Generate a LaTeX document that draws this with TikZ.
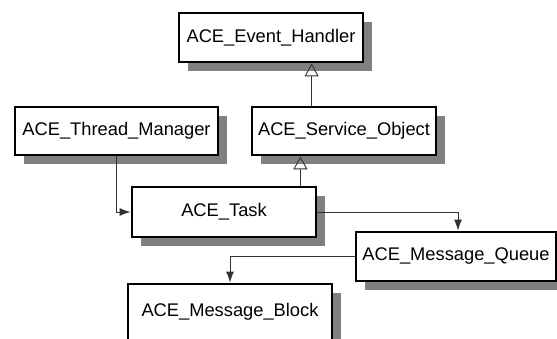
\documentclass[tikz,border=0pt]{standalone}
\usepackage{fontspec}
\setmainfont{Liberation Sans}
\usetikzlibrary{arrows.meta,shadows}
\definecolor{shadowgray}{RGB}{128,128,128}
\definecolor{linegray}{RGB}{50,50,50}
\tikzset{
  classbox/.style={draw=black, line width=2.8pt, fill=white, inner sep=0pt,
    font=\fontsize{18.3}{21}\selectfont,
    general shadow={fill=shadowgray, shadow xshift=9pt, shadow yshift=-9pt}},
  gen/.style={draw=linegray, line width=0.9pt, -{Triangle[open, length=13pt, width=14pt, line width=0.9pt]}},
  assoc/.style={draw=linegray, line width=0.9pt, -{Latex[length=11pt, width=8pt]}}
}
\begin{document}
\begin{tikzpicture}[x=1pt, y=-1pt]
\useasboundingbox (0,0) rectangle (557,339);
\node[classbox, minimum width=184pt, minimum height=49pt] (EH) at (271,37.5) {ACE\_Event\_Handler};
\node[classbox, minimum width=203pt, minimum height=48pt] (TM) at (116.5,131) {ACE\_Thread\_Manager};
\node[classbox, minimum width=184pt, minimum height=48pt] (SO) at (344,131) {ACE\_Service\_Object};
\node[classbox, minimum width=184pt, minimum height=50pt] (Task) at (224,212) {ACE\_Task};
\node[classbox, minimum width=200pt, minimum height=49pt] (MQ) at (456,256.5) {ACE\_Message\_Queue};
\node[classbox, minimum width=204pt, minimum height=56pt] (MB) at (230,312) {ACE\_Message\_Block};
\draw[gen] ([xshift=61pt]SO.north west) -- ([xshift=61pt]SO.north west |- EH.south);
\draw[gen] ([xshift=-17pt]Task.north east) -- ([xshift=-17pt]Task.north east |- SO.south);
\draw[assoc] (TM.south) |- (Task.west);
\draw[assoc] (Task.east) -| ([xshift=2pt]MQ.north);
\draw[assoc] (MQ.west) -| (MB.north);
\end{tikzpicture}
\end{document}
